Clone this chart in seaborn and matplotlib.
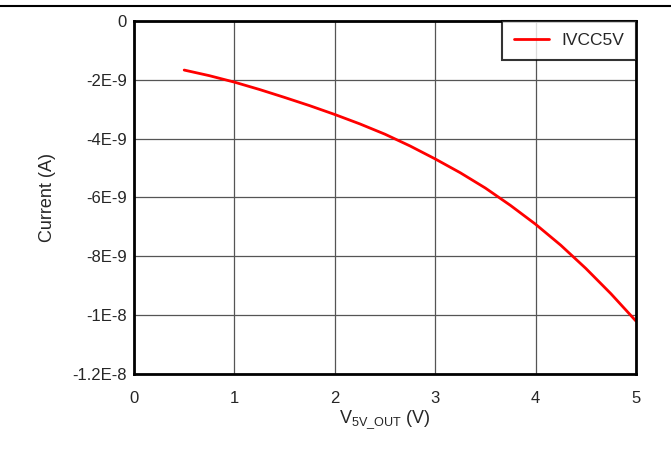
import seaborn as sns
import matplotlib.pyplot as plt
import matplotlib.lines as mlines
import pandas as pd

# values
v_out = [0.5, 0.75, 1.0, 1.25, 1.5, 1.75, 2.0, 2.25, 2.5, 2.75, 3.0,
         3.25, 3.5, 3.75, 4.0, 4.25, 4.5, 4.75, 5.0]
i_vcc5v = [-1.67e-9, -1.86e-9, -2.08e-9, -2.33e-9, -2.60e-9, -2.88e-9,
           -3.18e-9, -3.50e-9, -3.85e-9, -4.25e-9, -4.69e-9, -5.16e-9,
           -5.68e-9, -6.27e-9, -6.91e-9, -7.62e-9, -8.41e-9, -9.27e-9,
           -10.2e-9]

x_ticks = [0, 1, 2, 3, 4, 5]
y_ticks = [0, -2e-9, -4e-9, -6e-9, -8e-9, -1e-8, -1.2e-8]
y_tick_labels = ["0", "-2E-9", "-4E-9", "-6E-9", "-8E-9", "-1E-8", "-1.2E-8"]

sns.set_style("white")
plt.rcParams['font.family'] = ['Liberation Sans', 'DejaVu Sans']
plt.rcParams['mathtext.fontset'] = 'custom'
plt.rcParams['mathtext.rm'] = 'Liberation Sans'

df = pd.DataFrame({"V": v_out, "I": i_vcc5v})

fig = plt.figure(figsize=(6.71, 4.55), dpi=100)
ax = fig.add_axes([0.1997, 0.178, 0.7481, 0.776])

sns.lineplot(data=df, x="V", y="I", ax=ax, color="#ff0000", linewidth=2,
             label="IVCC5V")

ax.set_xlim(0, 5)
ax.set_ylim(-1.2e-8, 0)
ax.set_xticks(x_ticks)
ax.set_yticks(y_ticks)
ax.set_yticklabels(y_tick_labels)
ax.grid(True, color="#555555", linewidth=0.9)
ax.tick_params(length=0, labelsize=12)
ax.tick_params(axis="x", pad=12)
ax.tick_params(axis="y", pad=5)

for s in ax.spines.values():
    s.set_color("black")
    s.set_linewidth(2)

ax.set_xlabel(r"V$_{\mathregular{5V\_OUT}}$ (V)", fontsize=13, labelpad=2)
ax.set_ylabel("Current (A)", fontsize=13, labelpad=12)

leg = ax.legend(loc="upper right", fontsize=12.5, frameon=True, fancybox=False,
                borderaxespad=0, handlelength=2.0, borderpad=0.7,
                handletextpad=0.7)
leg.get_frame().set_edgecolor("black")
leg.get_frame().set_linewidth(1.5)

fig.add_artist(mlines.Line2D([0, 1], [0.987, 0.987], color="black",
                             linewidth=1.5, transform=fig.transFigure))

fig.savefig("out.png", dpi=100)
